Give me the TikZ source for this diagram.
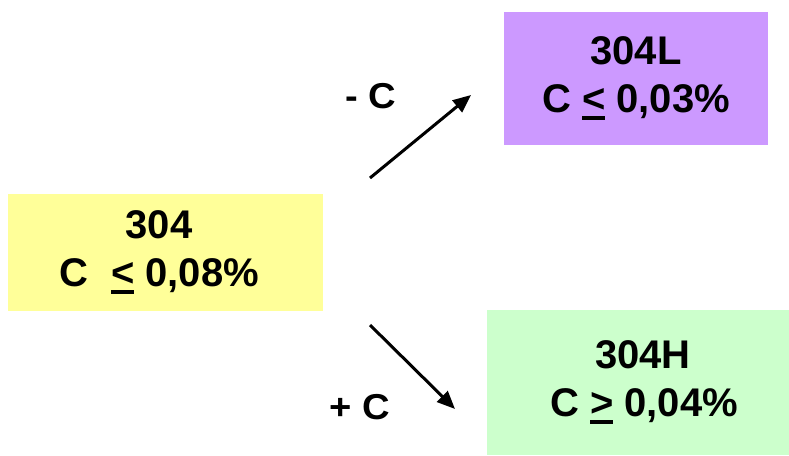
\documentclass[tikz,border=0pt]{standalone}
\usepackage{fontspec}
\setmainfont{Liberation Sans}
\usetikzlibrary{arrows.meta}
\usetikzlibrary{positioning}

\definecolor{steelyellow}{HTML}{FFFF99}
\definecolor{steellilac}{HTML}{CC99FF}
\definecolor{steelgreen}{HTML}{CCFFCC}

% underlined relation sign
\newcommand\ulsign[1]{\setbox0\hbox{#1}\rlap{\rule[-8pt]{\wd0}{4pt}}\box0\relax}

\tikzset{
  gradebox/.style={inner sep=0pt, align=center, font=\bfseries\fontsize{40}{48}\selectfont},
  carbonlabel/.style={inner sep=0pt, font=\bfseries\fontsize{36}{40}\selectfont},
  carbonarrow/.style={line width=3pt, -{Triangle[length=18pt,width=15pt]}}
}

\begin{document}
\begin{tikzpicture}[x=1pt, y=-1pt]
  \useasboundingbox (0,0) rectangle (789,455);
 %grade boxes
  \node[gradebox, fill=steelyellow, minimum width=315pt, minimum height=117pt] (base) at (165.5,252.5) {304\hspace*{13pt}\\C \ \ulsign{<} 0,08\%\hspace*{12pt}};
  \node[gradebox, fill=steellilac, minimum width=264pt, minimum height=133pt] (low) at (636,78.5) {304L\\C \ulsign{<} 0,03\%};
  \node[gradebox, fill=steelgreen, minimum width=302pt, minimum height=145pt] (high) at (638,382.5) {\hspace*{10pt}304H\\\hspace*{12pt}C \ulsign{>} 0,04\%};

 %arrow 304->304L
  \coordinate (lowstart) at (370,178);
  \coordinate (lowend) at (471,95);
  \draw[carbonarrow] (lowstart) -- (lowend);
  \node[carbonlabel] (minusc) at (371,96) {\scalebox{1.06}[1]{- C}};

 %arrow 304->304H
  \coordinate (highstart) at (370,325);
  \coordinate (highend) at (455,409);
  \draw[carbonarrow] (highstart) -- (highend);
  \node[carbonlabel] (plusc) at (360,407) {\scalebox{1.06}[1]{+ C}};
\end{tikzpicture}
\end{document}
